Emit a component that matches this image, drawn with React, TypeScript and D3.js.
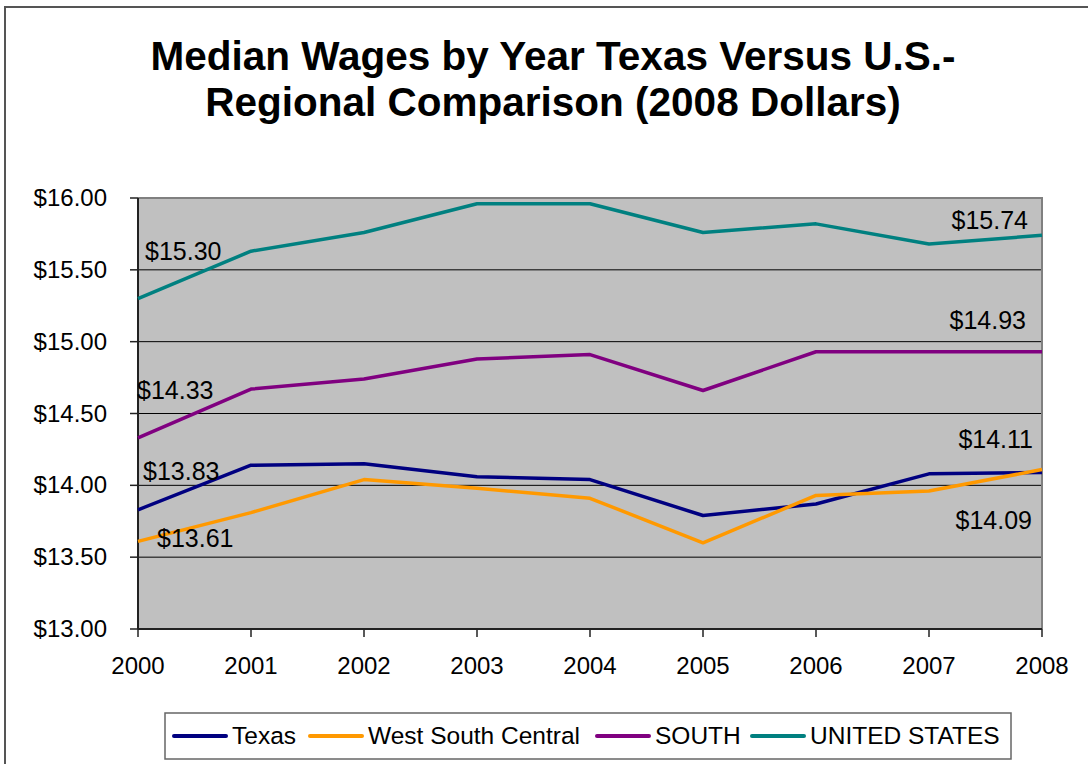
import React, { useEffect } from "react";
import * as d3 from "d3";

const years = [2000, 2001, 2002, 2003, 2004, 2005, 2006, 2007, 2008];
const texas = [13.83, 14.14, 14.15, 14.06, 14.04, 13.79, 13.87, 14.08, 14.09];
const westSouthCentral = [13.61, 13.81, 14.04, 13.98, 13.91, 13.60, 13.93, 13.96, 14.11];
const south = [14.33, 14.67, 14.74, 14.88, 14.91, 14.66, 14.93, 14.93, 14.93];
const unitedStates = [15.30, 15.63, 15.76, 15.96, 15.96, 15.76, 15.82, 15.68, 15.74];
const yTicks = [13.0, 13.5, 14.0, 14.5, 15.0, 15.5, 16.0];
const titleLines = ["Median Wages by Year Texas Versus U.S.-", "Regional Comparison (2008 Dollars)"];

const seriesList = [
  { name: "Texas", values: texas, color: "#000080" },
  { name: "West South Central", values: westSouthCentral, color: "#FF9900" },
  { name: "SOUTH", values: south, color: "#800080" },
  { name: "UNITED STATES", values: unitedStates, color: "#008080" },
];

// data label placement (series index, point index, offset, anchor)
const labelLayout = [
  { s: 3, i: 0, dx: 7, dy: -39, anchor: "start" },
  { s: 3, i: 8, dx: -14, dy: -6, anchor: "end" },
  { s: 2, i: 0, dx: -1, dy: -39, anchor: "start" },
  { s: 2, i: 8, dx: -16, dy: -23, anchor: "end" },
  { s: 0, i: 0, dx: 5, dy: -30, anchor: "start" },
  { s: 1, i: 0, dx: 19, dy: 6, anchor: "start" },
  { s: 1, i: 8, dx: -9, dy: -22, anchor: "end" },
  { s: 0, i: 8, dx: -10, dy: 57, anchor: "end" },
];

const legendX = [174, 310, 597, 752];

const W = 1088;
const H = 764;
const plot = { left: 138, right: 1042, top: 198, bottom: 629 };
const FONT = "'Liberation Sans', Arial, sans-serif";

export default function App() {
  useEffect(() => {
    document.body.style.margin = "0";
  }, []);

  const x = d3.scaleLinear().domain([2000, 2008]).range([plot.left, plot.right]);
  const y = d3.scaleLinear().domain([13, 16]).range([plot.bottom, plot.top]);
  const fmt = d3.format("$.2f");
  const line = d3
    .line<number>()
    .x((_, i) => x(years[i]))
    .y((v) => y(v));

  return (
    <svg width={W} height={H} style={{ display: "block", background: "#fff" }} fontFamily={FONT}>
      <rect x={5} y={7} width={1200} height={900} fill="#fff" stroke="#555" strokeWidth={2} />
      {titleLines.map((t, k) => (
        <text key={k} x={553} y={70 + k * 46} textAnchor="middle" fontSize={40.5} fontWeight="bold" fill="#000">
          {t}
        </text>
      ))}
      <rect
        x={plot.left}
        y={plot.top}
        width={plot.right - plot.left}
        height={plot.bottom - plot.top}
        fill="#C0C0C0"
      />
      {yTicks
        .filter((t) => t > 13 && t < 16)
        .map((t) => (
          <line key={t} x1={plot.left} x2={plot.right} y1={y(t)} y2={y(t)} stroke="#000" strokeWidth={1} />
        ))}
      <path
        d={`M${plot.left},${plot.top}H${plot.right}V${plot.bottom}`}
        fill="none"
        stroke="#808080"
        strokeWidth={2}
      />
      <line x1={plot.left} x2={plot.left} y1={plot.top} y2={plot.bottom} stroke="#222" strokeWidth={2} />
      <line x1={plot.left} x2={plot.right} y1={plot.bottom} y2={plot.bottom} stroke="#222" strokeWidth={2} />
      {yTicks.map((t) => (
        <g key={t}>
          <line x1={plot.left - 8} x2={plot.left} y1={y(t)} y2={y(t)} stroke="#222" strokeWidth={1.5} />
          <text x={107} y={y(t) + 8} textAnchor="end" fontSize={24} fill="#000">
            {fmt(t)}
          </text>
        </g>
      ))}
      {years.map((yr) => (
        <g key={yr}>
          <line x1={x(yr)} x2={x(yr)} y1={plot.bottom} y2={plot.bottom + 8} stroke="#222" strokeWidth={1.5} />
          <text x={x(yr)} y={674} textAnchor="middle" fontSize={24} fill="#000">
            {yr}
          </text>
        </g>
      ))}
      {seriesList.map((s) => (
        <path key={s.name} d={line(s.values) || ""} fill="none" stroke={s.color} strokeWidth={3.5} strokeLinejoin="round" />
      ))}
      {labelLayout.map((l, k) => {
        const s = seriesList[l.s];
        return (
          <text
            key={k}
            x={x(years[l.i]) + l.dx}
            y={y(s.values[l.i]) + l.dy}
            textAnchor={l.anchor}
            fontSize={25}
            fill="#000"
          >
            {fmt(s.values[l.i])}
          </text>
        );
      })}
      <rect x={165} y={713} width={846} height={46} fill="#fff" stroke="#666" strokeWidth={1.5} />
      {seriesList.map((s, k) => (
        <g key={s.name} transform={`translate(${legendX[k]},736)`}>
          <line x1={0} x2={52} y1={0} y2={0} stroke={s.color} strokeWidth={4} strokeLinecap="round" />
          <text x={58} y={8} fontSize={24.5} fill="#000">
            {s.name}
          </text>
        </g>
      ))}
    </svg>
  );
}
